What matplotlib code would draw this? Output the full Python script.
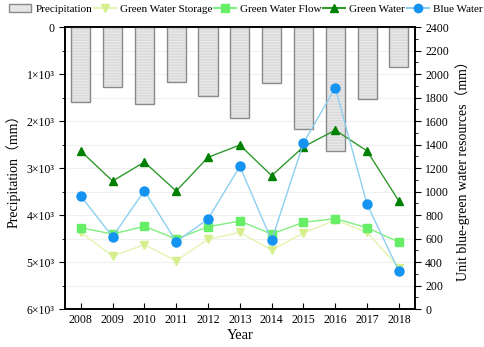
import matplotlib
matplotlib.use("Agg")
import matplotlib.pyplot as plt
from matplotlib.patches import Patch
from matplotlib.lines import Line2D
from matplotlib.ticker import MultipleLocator, FuncFormatter

# -------------------- DATA --------------------
years = [2008, 2009, 2010, 2011, 2012, 2013, 2014, 2015, 2016, 2017, 2018]
precipitation = [1590, 1270, 1640, 1160, 1475, 1935, 1180, 2170, 2640, 1525, 850]
green_storage = [653, 451, 547, 411, 593, 653, 502, 647, 757, 653, 352]
green_flow = [692, 638, 704, 596, 700, 749, 638, 738, 769, 692, 570]
green_water = [1345, 1089, 1251, 1004, 1291, 1396, 1135, 1380, 1523, 1345, 919]
blue_water = [962, 615, 1007, 573, 766, 1214, 584, 1413, 1884, 891, 323]

# -------------------- STYLE --------------------
plt.rcParams['font.family'] = ['Liberation Serif', 'Noto Sans CJK SC']
plt.rcParams['font.size'] = 8.5

fig = plt.figure(figsize=(4.84, 3.47), dpi=100)
ax = fig.add_axes([0.134, 0.1095, 0.723, 0.8125])
ax2 = ax.twinx()

# -------------------- PRECIPITATION BARS (left, inverted) --------------------
ax.bar(years, precipitation, width=0.6, color='#e8e8e8', edgecolor='#dadada',
       hatch='------', linewidth=0, zorder=2)
ax.bar(years, precipitation, width=0.6, fill=False, edgecolor='#8a8a8a',
       linewidth=1.0, zorder=3)
ax.set_ylim(6000, 0)
ax.set_xlim(2007.5, 2018.5)
ax.yaxis.set_major_locator(MultipleLocator(1000))
ax.yaxis.set_minor_locator(MultipleLocator(500))
ax.yaxis.set_major_formatter(FuncFormatter(
    lambda v, p: '0' if v == 0 else f'{int(v/1000)}×10³'))
ax.grid(axis='y', which='both', color='#f0f0f0', linewidth=0.8, zorder=0)
ax.set_axisbelow(True)
ax.set_xticks(years)
ax.tick_params(axis='x', direction='in', length=4)
ax.tick_params(axis='y', which='major', direction='out', length=4)
ax.tick_params(axis='y', which='minor', direction='out', length=2)
ax.set_xlabel('Year', fontsize=10.5, labelpad=2)
ax.set_ylabel('Precipitation（mm）', fontsize=10)

# -------------------- WATER RESOURCES LINES (right) --------------------
ax2.plot(years, green_storage, color='#e4f5b0', marker='v', markersize=6,
         markerfacecolor='#d5ef8e', markeredgecolor='#d5ef8e', linewidth=1, zorder=3)
ax2.plot(years, green_flow, color='#80f080', marker='s', markersize=6,
         markerfacecolor='#66ee66', markeredgecolor='#66ee66', linewidth=1, zorder=4)
ax2.plot(years, green_water, color='#2e9a2e', marker='^', markersize=6,
         markerfacecolor='#008000', markeredgecolor='#008000', linewidth=1, zorder=5)
ax2.plot(years, blue_water, color='#8ccfef', marker='o', markersize=6.5,
         markerfacecolor='#1493f0', markeredgecolor='#1493f0', linewidth=1, zorder=6)
ax2.set_ylim(0, 2400)
ax2.yaxis.set_major_locator(MultipleLocator(200))
ax2.yaxis.set_minor_locator(MultipleLocator(100))
ax2.tick_params(axis='y', which='major', direction='out', length=4)
ax2.tick_params(axis='y', which='minor', direction='out', length=2)
ax2.set_ylabel('Unit blue-green water resources（mm）', fontsize=10)

for a in (ax, ax2):
    for s in a.spines.values():
        s.set_linewidth(1.2)

# -------------------- LEGEND --------------------
handles = [
    Patch(facecolor='#e6e6e6', edgecolor='#8a8a8a', linewidth=1.0),
    Line2D([], [], color='#e4f5b0', marker='v', markersize=6,
           markerfacecolor='#d5ef8e', markeredgecolor='#d5ef8e'),
    Line2D([], [], color='#80f080', marker='s', markersize=6,
           markerfacecolor='#66ee66', markeredgecolor='#66ee66'),
    Line2D([], [], color='#2e9a2e', marker='^', markersize=6,
           markerfacecolor='#008000', markeredgecolor='#008000'),
    Line2D([], [], color='#8ccfef', marker='o', markersize=6,
           markerfacecolor='#1493f0', markeredgecolor='#1493f0'),
]
labels = ['Precipitation', 'Green Water Storage', 'Green Water Flow',
          'Green Water', 'Blue Water']
fig.legend(handles, labels, loc='center', bbox_to_anchor=(0.508, 0.975), ncol=5,
           frameon=False, fontsize=8, handlelength=2.0, handletextpad=0.35,
           columnspacing=0.15, borderaxespad=0, borderpad=0)

fig.savefig('out.png', dpi=100)
